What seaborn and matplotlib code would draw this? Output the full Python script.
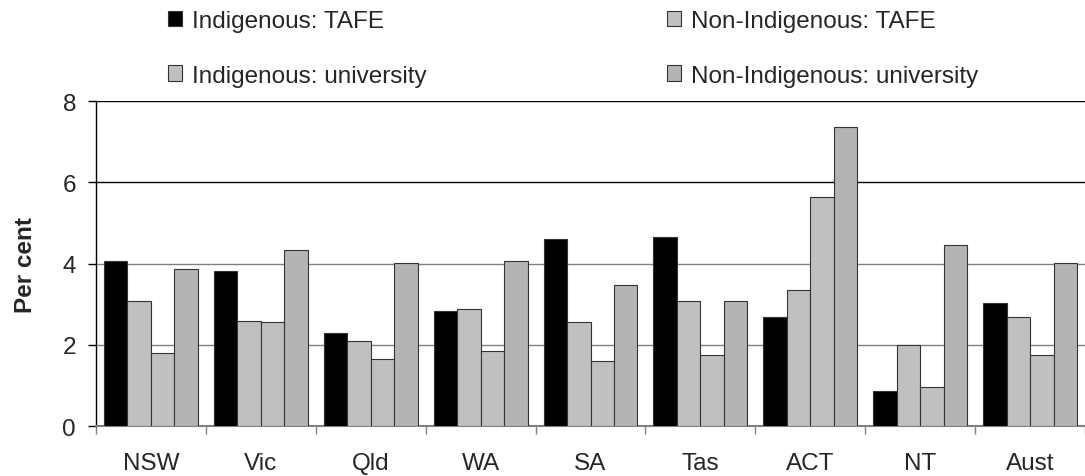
import pandas as pd
import matplotlib
matplotlib.use('Agg')
import matplotlib.pyplot as plt
from matplotlib.patches import Patch
import seaborn as sns

# Participation in VET/university by state, per cent
states = ['NSW', 'Vic', 'Qld', 'WA', 'SA', 'Tas', 'ACT', 'NT', 'Aust']
series = ['Indigenous: TAFE', 'Non-Indigenous: TAFE',
          'Indigenous: university', 'Non-Indigenous: university']
indig_tafe = [4.06, 3.81, 2.28, 2.83, 4.60, 4.66, 2.68, 0.85, 3.02]
nonindig_tafe = [3.08, 2.59, 2.09, 2.88, 2.55, 3.08, 3.34, 2.00, 2.68]
indig_uni = [1.79, 2.55, 1.64, 1.84, 1.59, 1.76, 5.63, 0.97, 1.76]
nonindig_uni = [3.87, 4.33, 4.01, 4.06, 3.47, 3.08, 7.36, 4.46, 4.01]
colours = ['#000000', '#c0c0c0', '#c0c0c0', '#b4b4b4']

rows = []
for name, vals in zip(series, [indig_tafe, nonindig_tafe, indig_uni, nonindig_uni]):
    for st, v in zip(states, vals):
        rows.append({'State': st, 'Series': name, 'Per cent': v})
df = pd.DataFrame(rows)

sns.set_style('white')
plt.rcParams['font.family'] = ['Liberation Sans', 'DejaVu Sans']
fs = 17.5

fig = plt.figure(figsize=(10.85, 4.77), dpi=100)
ax = fig.add_axes([0.0885, 0.1048, 0.9115, 0.681])

sns.barplot(data=df, x='State', y='Per cent', hue='Series', order=states,
            hue_order=series, palette=colours, width=0.855, ax=ax,
            edgecolor='#333333', linewidth=0.8, legend=False, zorder=3)

ax.set_ylim(0, 8)
ax.set_xlim(-0.5, 8.5)
ax.set_yticks([0, 2, 4, 6, 8])
ax.set_axisbelow(True)
ax.yaxis.grid(True, linewidth=1)
for y, gl in zip([0, 2, 4, 6, 8], ax.get_ygridlines()):
    gl.set_color('#000000' if y >= 6 else '#808080')

# ticks between the state groups, labels centred without marks
ax.set_xticks([i - 0.5 for i in range(10)], minor=True)
ax.tick_params(axis='x', which='major', length=0, pad=19, labelsize=fs)
ax.tick_params(axis='x', which='minor', length=6, color='#808080', width=1,
               direction='out', bottom=True)
ax.tick_params(axis='y', length=6, color='black', width=1, direction='out',
               labelsize=fs, pad=8.5, left=True)

for s in ['top', 'right']:
    ax.spines[s].set_visible(False)
ax.spines['left'].set_color('black')
ax.spines['bottom'].set_color('#808080')
ax.spines['left'].set_linewidth(1)
ax.spines['bottom'].set_linewidth(1.5)

ax.set_xlabel('')
ax.set_ylabel('Per cent', fontsize=fs, fontweight='bold', labelpad=18)

order = [0, 2, 1, 3]
handles = [Patch(facecolor=colours[i], edgecolor='#333333', linewidth=0.8) for i in order]
labels = [series[i] for i in order]
fig.legend(handles, labels, ncol=2, loc='upper left', bbox_to_anchor=(0.1548, 0.976),
           frameon=False, fontsize=fs, borderpad=0, borderaxespad=0,
           handlelength=0.58, handleheight=0.58, handletextpad=0.4,
           columnspacing=9.9, labelspacing=1.32)

fig.savefig('out.png', dpi=100)
